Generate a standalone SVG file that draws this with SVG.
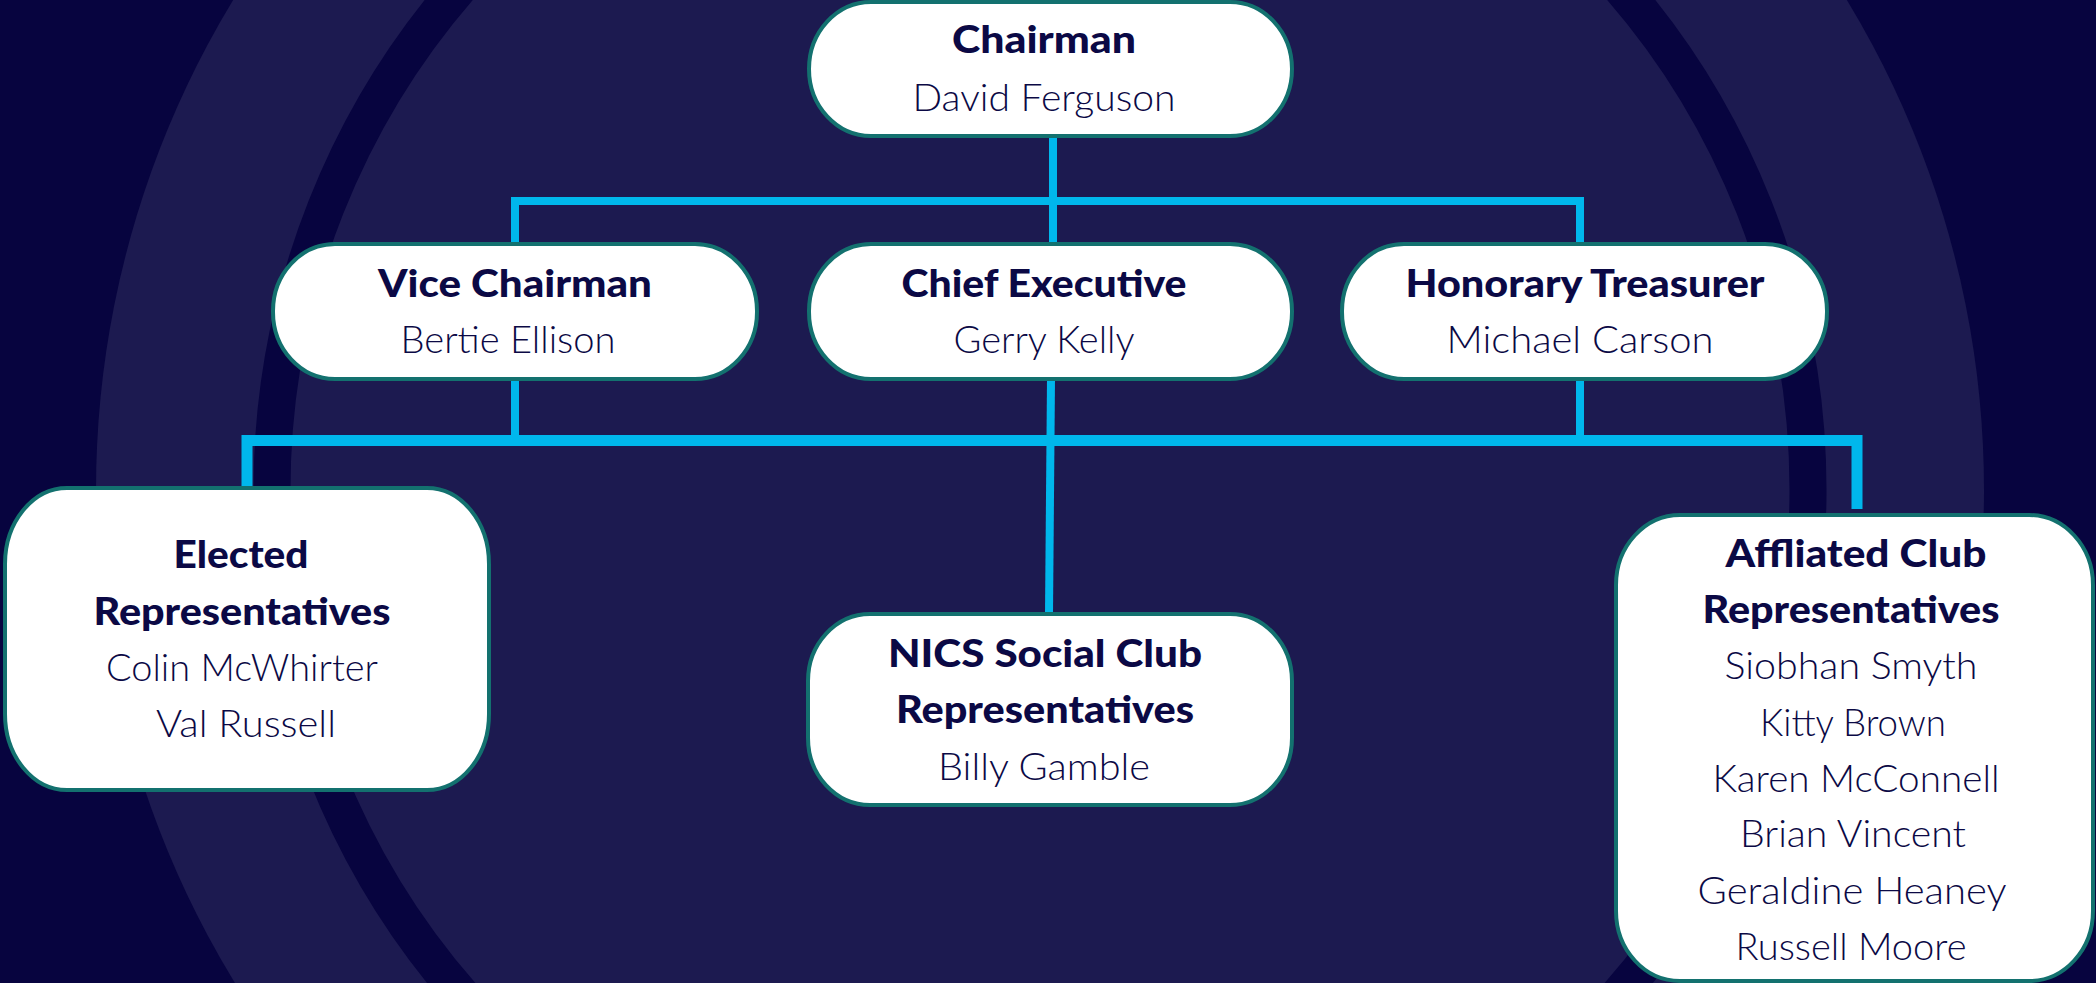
<svg xmlns="http://www.w3.org/2000/svg" width="2096" height="983" viewBox="0 0 2096 983">
<style>
.box{fill:#ffffff;stroke:#13716f;stroke-width:4}
.ln{stroke:#00b7ec;fill:none;stroke-linecap:butt}
.t{font-family:Lato,"Liberation Sans",sans-serif;font-size:37px;fill:#0b0945;text-anchor:middle}
.b{font-weight:900}
.r{font-weight:300}
</style>
<rect x="0" y="0" width="2096" height="983" fill="#07043f"/>
<circle cx="1040" cy="490" r="944" fill="#1c1a50"/>
<circle cx="1040" cy="490" r="768" fill="none" stroke="#07043f" stroke-width="37"/>
<g id="connectors">
<line class="ln" x1="1053" y1="136" x2="1053" y2="244" stroke-width="8"/>
<polyline class="ln" points="515,244 515,201 1580,201 1580,244" stroke-width="8"/>
<line class="ln" x1="515" y1="379" x2="515" y2="440" stroke-width="8"/>
<line class="ln" x1="1580" y1="379" x2="1580" y2="440" stroke-width="8"/>
<line class="ln" x1="1051" y1="379" x2="1049" y2="614" stroke-width="8"/>
<polyline class="ln" points="247,488 247,440.5 1857,440.5 1857,509" stroke-width="11"/>
</g>
<g id="chairman">
<rect class="box" x="809" y="2" width="483" height="134" rx="62" ry="67"/>
<text class="t b" x="1044" y="53" textLength="184" lengthAdjust="spacingAndGlyphs">Chairman</text>
<text class="t r" x="1044" y="111" textLength="263" lengthAdjust="spacingAndGlyphs">David Ferguson</text>
</g>
<g id="vice-chairman">
<rect class="box" x="273" y="244" width="484" height="135" rx="62" ry="67"/>
<text class="t b" x="515" y="297" textLength="274" lengthAdjust="spacingAndGlyphs">Vice Chairman</text>
<text class="t r" x="508" y="353" textLength="215" lengthAdjust="spacingAndGlyphs">Bertie Ellison</text>
</g>
<g id="chief-executive">
<rect class="box" x="809" y="244" width="483" height="135" rx="62" ry="67"/>
<text class="t b" x="1044" y="297" textLength="285" lengthAdjust="spacingAndGlyphs">Chief Executive</text>
<text class="t r" x="1044" y="353" textLength="181" lengthAdjust="spacingAndGlyphs">Gerry Kelly</text>
</g>
<g id="honorary-treasurer">
<rect class="box" x="1342" y="244" width="485" height="135" rx="62" ry="67"/>
<text class="t b" x="1585" y="297" textLength="359" lengthAdjust="spacingAndGlyphs">Honorary Treasurer</text>
<text class="t r" x="1580" y="353" textLength="267" lengthAdjust="spacingAndGlyphs">Michael Carson</text>
</g>
<g id="elected-representatives">
<rect class="box" x="5" y="488" width="484" height="302" rx="62" ry="76"/>
<text class="t b" x="241" y="568" textLength="135" lengthAdjust="spacingAndGlyphs">Elected</text>
<text class="t b" x="242" y="625" textLength="297" lengthAdjust="spacingAndGlyphs">Representatives</text>
<text class="t r" x="242" y="681" textLength="272" lengthAdjust="spacingAndGlyphs">Colin McWhirter</text>
<text class="t r" x="246" y="737" textLength="180" lengthAdjust="spacingAndGlyphs">Val Russell</text>
</g>
<g id="nics-social-club">
<rect class="box" x="808" y="614" width="484" height="191" rx="62" ry="67"/>
<text class="t b" x="1045" y="667" textLength="314" lengthAdjust="spacingAndGlyphs">NICS Social Club</text>
<text class="t b" x="1045" y="723" textLength="298" lengthAdjust="spacingAndGlyphs">Representatives</text>
<text class="t r" x="1044" y="780" textLength="212" lengthAdjust="spacingAndGlyphs">Billy Gamble</text>
</g>
<g id="affiliated-club">
<rect class="box" x="1616" y="515" width="477" height="466" rx="64" ry="70"/>
<text class="t b" x="1856" y="567" textLength="261" lengthAdjust="spacingAndGlyphs">Affliated Club</text>
<text class="t b" x="1851" y="623" textLength="297" lengthAdjust="spacingAndGlyphs">Representatives</text>
<text class="t r" x="1851" y="679" textLength="253" lengthAdjust="spacingAndGlyphs">Siobhan Smyth</text>
<text class="t r" x="1853" y="736" textLength="186" lengthAdjust="spacingAndGlyphs">Kitty Brown</text>
<text class="t r" x="1856" y="792" textLength="287" lengthAdjust="spacingAndGlyphs">Karen McConnell</text>
<text class="t r" x="1853" y="847" textLength="226" lengthAdjust="spacingAndGlyphs">Brian Vincent</text>
<text class="t r" x="1852" y="904" textLength="309" lengthAdjust="spacingAndGlyphs">Geraldine Heaney</text>
<text class="t r" x="1851" y="960" textLength="231" lengthAdjust="spacingAndGlyphs">Russell Moore</text>
</g>
</svg>
